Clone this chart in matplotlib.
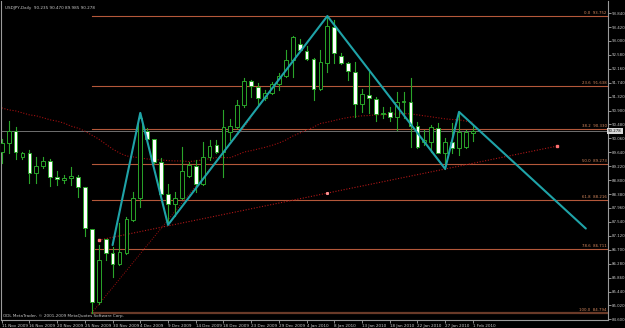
import matplotlib
matplotlib.use("Agg")
import matplotlib.pyplot as plt

# USDJPY daily bars (bar index 0 = 11 Nov 2009, 68 = 1 Feb 2010)
opens = [89.65, 89.92, 90.28, 89.50, 89.62, 89.02, 89.23, 89.38, 88.90, 88.80,
         88.87, 88.90, 88.59, 87.33, 85.12, 87.02, 86.60, 86.27, 86.60, 87.60,
         88.26, 90.28, 90.04, 89.35, 88.38, 88.08, 88.26, 88.93, 89.23, 88.68,
         89.50, 89.86, 89.65, 90.25, 90.40, 91.07, 91.79, 91.61, 91.28, 91.43,
         91.70, 91.94, 92.42, 92.91, 92.70, 92.45, 91.55, 92.33, 93.42, 92.55,
         92.33, 92.06, 91.10, 91.37, 91.25, 90.81, 90.86, 90.71, 91.16, 91.16,
         90.43, 89.95, 89.95, 90.37, 89.62, 89.95, 89.77, 89.80, 90.235]
highs = [90.04, 90.58, 90.40, 89.65, 89.71, 89.50, 89.50, 89.44, 89.08, 88.96,
         89.20, 88.96, 88.59, 87.33, 86.84, 87.02, 86.78, 87.51, 87.69, 88.44,
         90.83, 90.37, 90.04, 89.47, 88.68, 88.44, 89.80, 89.35, 89.41, 89.95,
         90.01, 90.01, 90.92, 90.65, 91.22, 91.88, 91.82, 91.73, 91.52, 91.76,
         92.03, 92.73, 93.15, 93.06, 92.85, 92.48, 92.73, 93.752, 93.63, 92.64,
         92.36, 92.36, 91.55, 92.06, 91.31, 91.01, 91.01, 91.46, 91.46, 91.88,
         90.55, 90.31, 90.46, 90.52, 90.07, 90.52, 90.86, 90.31, 90.470]
lows = [89.32, 89.62, 89.44, 89.44, 88.71, 88.71, 89.17, 88.62, 88.65, 88.71,
        88.65, 88.29, 87.12, 84.794, 85.06, 86.39, 85.88, 86.24, 86.57, 87.57,
        87.99, 90.01, 89.32, 88.35, 87.51, 87.72, 88.23, 88.90, 88.44, 88.65,
        89.41, 89.62, 88.90, 90.01, 90.37, 91.01, 91.31, 91.10, 91.22, 91.40,
        91.52, 91.91, 91.91, 92.70, 92.42, 91.22, 91.52, 92.06, 92.33, 92.30,
        91.82, 90.71, 90.86, 90.83, 90.58, 90.68, 90.58, 90.31, 90.68, 89.80,
        89.77, 89.86, 89.65, 89.62, 89.14, 89.62, 89.56, 89.77, 89.985]
closes = [89.92, 90.28, 89.65, 89.62, 89.02, 89.23, 89.38, 88.90, 88.84, 88.87,
          88.93, 88.59, 87.36, 85.12, 86.39, 86.60, 86.27, 86.63, 87.63, 88.26,
          90.68, 90.04, 89.35, 88.38, 88.08, 88.26, 89.08, 89.26, 88.68, 89.50,
          89.83, 89.65, 90.40, 90.43, 91.07, 91.79, 91.64, 91.28, 91.43, 91.70,
          91.94, 92.42, 93.12, 92.73, 92.45, 91.55, 92.36, 93.45, 92.64, 92.33,
          92.09, 91.10, 91.40, 91.28, 90.80, 90.83, 90.71, 91.16, 91.17, 90.43,
          89.80, 90.01, 90.40, 89.62, 89.95, 89.77, 90.25, 90.25, 90.278]

# moving average (dotted red curve)
ma = [90.98, 90.92, 90.89, 90.83, 90.77, 90.74, 90.68, 90.62, 90.58, 90.52,
      90.43, 90.37, 90.28, 90.16, 90.04, 89.89, 89.74, 89.62, 89.53, 89.50,
      89.47, 89.44, 89.42, 89.41, 89.39, 89.38, 89.38, 89.36, 89.38, 89.41,
      89.45, 89.48, 89.48, 89.48, 89.56, 89.65, 89.69, 89.74, 89.79, 89.85,
      89.92, 90.01, 90.13, 90.22, 90.31, 90.40, 90.51, 90.55, 90.60, 90.65,
      90.69, 90.72, 90.74, 90.75, 90.77, 90.77, 90.78, 90.80, 90.81, 90.80,
      90.77, 90.74, 90.71, 90.68, 90.65, 90.63, 90.62, 90.58, 90.55]

date_labels = ["11 Nov 2009", "16 Nov 2009", "20 Nov 2009", "25 Nov 2009",
               "30 Nov 2009", "4 Dec 2009", "9 Dec 2009", "14 Dec 2009",
               "18 Dec 2009", "23 Dec 2009", "29 Dec 2009", "4 Jan 2010",
               "8 Jan 2010", "13 Jan 2010", "18 Jan 2010", "22 Jan 2010",
               "27 Jan 2010", "1 Feb 2010"]

# fibonacci retracement 84.794 -> 93.752
fib_names = ["0.0", "23.6", "38.2", "50.0", "61.8", "78.6", "100.0"]
fib_prices = [93.752, 91.638, 90.330, 89.273, 88.216, 86.711, 84.794]
fib_start = 13

# zigzag (teal) and trendlines
zz_x = [16, 20, 24, 47, 64, 66, 84.3]
zz_y = [86.84, 90.83, 87.45, 93.752, 89.14, 90.86, 87.34]
tl_x = [14, 47, 80.2]
tl_y = [86.99, 88.41, 89.83]
tl2_x = [13, 36]
tl2_y = [84.794, 90.66]

bid = 90.278
ytick_vals = [93.840 - 0.42 * k for k in range(23)]

GREEN = "#2aa52a"
FG = "#c8c8c8"

fig = plt.figure(figsize=(6.25, 3.28), dpi=100)
fig.patch.set_facecolor("black")
ax = fig.add_axes([1 / 625, 8 / 328, 607 / 625, 319 / 328])
ax.set_facecolor("black")
ax.set_xlim(-0.1, 87.5)
ax.set_ylim(84.581, 94.205)

n = len(opens)
xs = list(range(n))

# fib levels
for name, p in zip(fib_names, fib_prices):
    lw = 1.6 if name == "100.0" else 0.8
    col = "#6a3a28" if name == "100.0" else "#b4583a"
    ax.plot([fib_start, 87.5], [p, p], color=col, lw=lw, zorder=1)
    ax.text(87.3, p + 0.03, f"{name}  {p:.3f}", color="#d88a60", fontsize=2.8,
            ha="right", va="bottom", zorder=5)

# bid line
ax.axhline(bid, color="#707070", lw=0.7, zorder=1)

# moving average
ax.plot(xs, ma, color="#a01010", lw=0.8, ls=(0, (1, 1.5)), zorder=2)

# trendlines
ax.plot(tl_x, tl_y, color="#b01818", lw=0.8, ls=(0, (1, 1.5)), zorder=2)
ax.plot([tl_x[0], tl_x[-1]], [tl_y[0], tl_y[-1]], ls="none", marker="s",
        ms=1.6, color="#ff7070", zorder=3)
ax.plot(tl_x[1], tl_y[1], ls="none", marker="s", ms=1.2, color="#ff9090", zorder=3)
ax.plot(tl2_x, tl2_y, color="#a01010", lw=0.7, ls=(0, (1, 1.5)), zorder=2)

# candles
for i in xs:
    o, h, l, c = opens[i], highs[i], lows[i], closes[i]
    ax.plot([i, i], [l, h], color=GREEN, lw=0.8, zorder=3)
    bull = c >= o
    body = max(abs(c - o), 0.02)
    ax.bar(i, body, bottom=min(o, c), width=0.55,
           color="black" if bull else "white", edgecolor=GREEN, lw=0.7, zorder=4)

# zigzag
ax.plot(zz_x, zz_y, color="#1fa3a8", lw=1.5, zorder=6, solid_capstyle="round")

# axes styling
ax.spines["top"].set_visible(False)
for side in ["left", "right", "bottom"]:
    ax.spines[side].set_color("#9a9a9a")
    ax.spines[side].set_linewidth(0.8)

ax.yaxis.tick_right()
ax.set_yticks(ytick_vals)
ax.set_yticklabels([f"{v:.3f}" for v in ytick_vals])
ax.tick_params(axis="y", colors=FG, labelsize=2.8, length=2, width=0.5, pad=1)
ax.set_xticks(list(range(0, n, 4)))
ax.set_xticklabels(date_labels, ha="left")
ax.tick_params(axis="x", colors=FG, labelsize=3, length=2, width=0.5, pad=1)

ax.text(87.5, bid, f"{bid:.3f}", fontsize=2.8, color="black", ha="left", va="center",
        bbox=dict(boxstyle="square,pad=0.2", fc="#d8d8d8", ec="none"),
        transform=ax.transData, clip_on=False, zorder=7)

ax.text(0.006, 0.985, "USDJPY,Daily  90.235 90.470 89.985 90.278", color=FG,
        fontsize=3, transform=ax.transAxes, ha="left", va="top")
ax.text(0.004, 0.005, "ODL MetaTrader, \u00a9 2001-2009 MetaQuotes Software Corp.",
        color=FG, fontsize=3, transform=ax.transAxes, ha="left", va="bottom")

fig.savefig("out.png", dpi=100, facecolor=fig.get_facecolor())
